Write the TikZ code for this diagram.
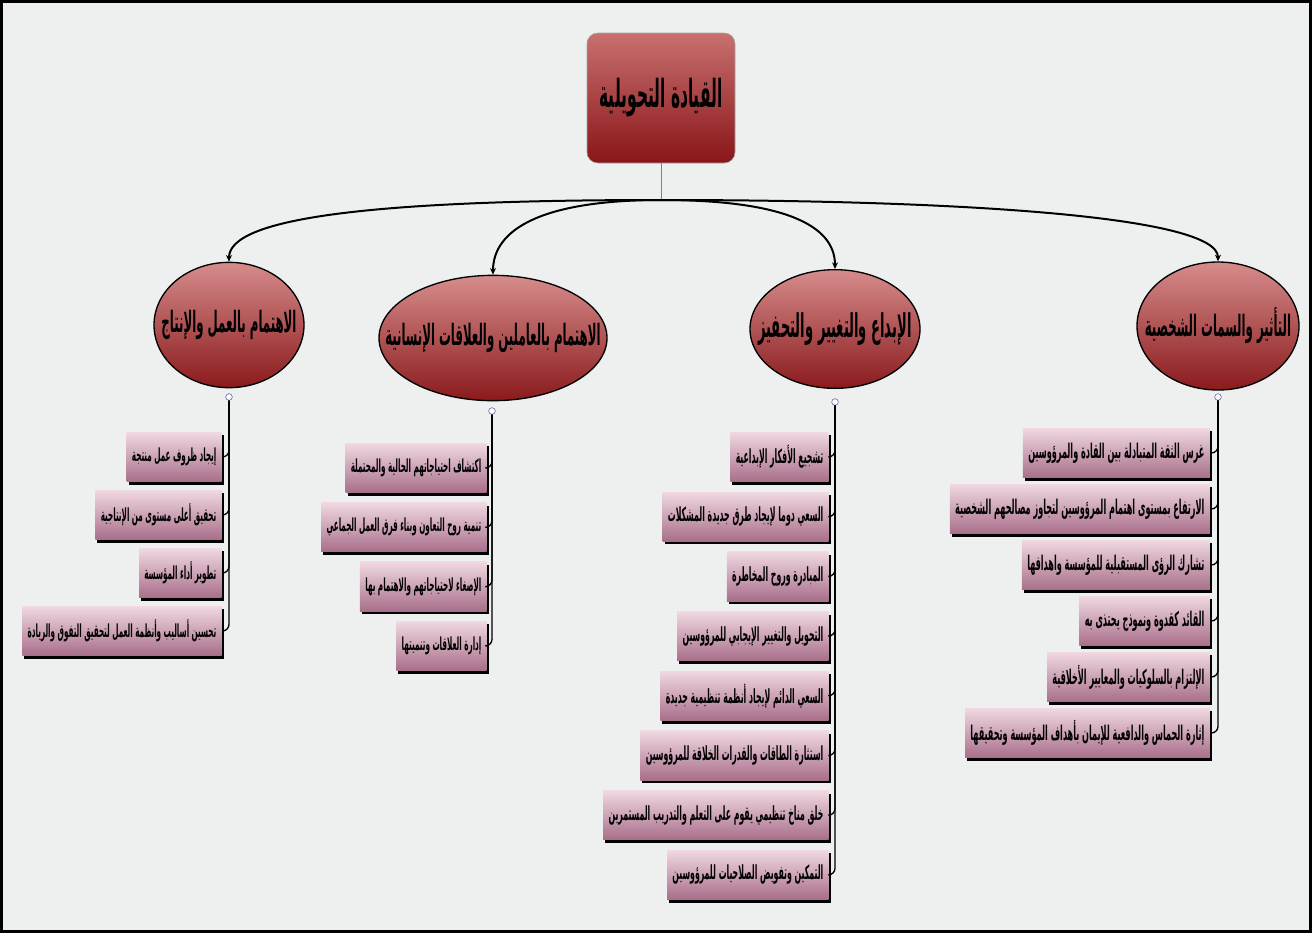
\documentclass[tikz,border=0pt]{standalone}
\usepackage{fontspec}
\newfontfamily\arabicfont[Script=Arabic,FakeStretch=0.4]{DejaVu Sans}
\TeXXeTstate=1
\usetikzlibrary{shapes.geometric,arrows.meta,shadows,positioning}

\definecolor{paper}{HTML}{EEF0F0}
\definecolor{rootTop}{HTML}{C8706F}
\definecolor{rootBot}{HTML}{8A1518}
\definecolor{ovalTop}{HTML}{D68C8C}
\definecolor{ovalBot}{HTML}{8A1A1C}
\definecolor{itemTop}{HTML}{F0D8E2}
\definecolor{itemBot}{HTML}{A86E8A}

\tikzset{
  lead/.style={draw=gray!70, rounded corners=8pt, top color=rootTop, bottom color=rootBot,
    minimum width=111pt, minimum height=97.5pt, font=\fontsize{29}{32}\selectfont\arabicfont\bfseries},
  topic/.style={ellipse, draw=black, line width=1pt, top color=ovalTop, bottom color=ovalBot,
    inner sep=0pt, font=\fontsize{#1}{24}\selectfont\arabicfont\bfseries},
  topic/.default=22,
  item/.style={anchor=east, top color=itemTop, bottom color=itemBot, minimum height=37pt,
    inner xsep=4pt, font=\fontsize{#1}{17}\selectfont\arabicfont\bfseries,
    drop shadow={shadow xshift=1.5pt, shadow yshift=-2.3pt, fill=black, opacity=1}},
  item/.default=14.6,
  branch/.style={line width=1.5pt, -{Stealth[length=5pt,width=4.5pt]}},
  spine/.style={line width=1pt, rounded corners=5pt},
  hub/.style={circle, draw=blue!30!gray, fill=white, inner sep=0pt, minimum size=5pt},
}
\newcommand{\rtl}[1]{\makebox[0pt]{\beginR #1\endR}}

\begin{document}
\begin{tikzpicture}[x=0.75pt,y=-0.75pt]
\useasboundingbox (0,0) rectangle (1312,933);
\fill[paper] (0,0) rectangle (1312,933);
\draw[line width=2.5pt] (1.7,1.7) rectangle (1310.3,931.3);

% root and the four topics
\node[lead] (lead) at (661,98) {\rtl{القيادة التحويلية}};
\coordinate (fork) at (661,200);

\node[topic, minimum width=112.5pt, minimum height=94pt] (work) at (229,325) {\rtl{الاهتمام بالعمل والإنتاج}};
\node[topic, minimum width=171pt, minimum height=94pt] (people) at (493,338) {\rtl{الاهتمام بالعاملين والعلاقات الإنسانية}};
\node[topic=24.5, minimum width=127.5pt, minimum height=89pt] (creat) at (835,329) {\rtl{الإبداع والتغيير والتحفيز}};
\node[topic, minimum width=121.5pt, minimum height=96pt] (infl) at (1218,326) {\rtl{التأثير والسمات الشخصية}};

\draw[gray, line width=0.6pt] (lead.south) -- (fork);
\draw[branch] (fork) .. controls +(-280,0) and +(0,-45) .. (work.north);
\draw[branch] (fork) .. controls +(-120,0) and +(0,-45) .. (people.north);
\draw[branch] (fork) .. controls +(120,0) and +(0,-45) .. (creat.north);
\draw[branch] (fork) .. controls +(300,0) and +(0,-45) .. (infl.north);

\node[hub] (hw) at (229,397) {};
\node[hub] (hp) at (492,411) {};
\node[hub] (hc) at (835,402) {};
\node[hub] (hi) at (1218,397) {};

% items of each topic
\foreach \txt [count=\i] in {إيجاد ظروف عمل منتجة, تحقيق أعلى مستوى من الإنتاجية,
    تطوير أداء المؤسسة, تحسين أساليب وأنظمة العمل لتحقيق التفوق والريادة}{
  \node[item=13.5] (work\i) at (222,{457+58*(\i-1)}) {\beginR\txt\endR};
  \draw[spine] (hw.south) |- (work\i.east);
}
\foreach \txt [count=\i] in {اكتشاف احتياجاتهم الحالية والمحتملة, تنمية روح التعاون وبناء فرق العمل الجماعي,
    الإصغاء لاحتياجاتهم والاهتمام بها, إدارة العلاقات وتنميتها}{
  \node[item=13.5] (people\i) at (487,{468+59.3*(\i-1)}) {\beginR\txt\endR};
  \draw[spine] (hp.south) |- (people\i.east);
}
\foreach \txt [count=\i] in {تشجيع الأفكار الإبداعية, السعي دوما لإيجاد طرق جديدة المشكلات,
    المبادرة وروح المخاطرة, التحويل والتغيير الإيجابي للمرؤوسين,
    السعي الدائم لإيجاد أنظمة تنظيمية جديدة, استثارة الطاقات والقدرات الخلاقة للمرؤوسين,
    خلق مناخ تنظيمي يقوم على التعلم والتدريب المستمرين, التمكين وتفويض الصلاحيات للمرؤوسين}{
  \node[item] (creat\i) at (829,{457+59.7*(\i-1)}) {\beginR\txt\endR};
  \draw[spine] (hc.south) |- (creat\i.east);
}
\foreach \txt [count=\i] in {غرس الثقة المتبادلة بين القادة والمرؤوسين,
    الارتفاع بمستوى اهتمام المرؤوسين لتجاوز مصالحهم الشخصية,
    تشارك الرؤى المستقبلية للمؤسسة واهدافها, القائد كقدوة ونموذج يحتذى به,
    الإلتزام بالسلوكيات والمعايير الأخلاقية, إثارة الحماس والدافعية للإيمان بأهداف المؤسسة وتحقيقها}{
  \node[item=15.2] (infl\i) at (1210,{453+56*(\i-1)}) {\beginR\txt\endR};
  \draw[spine] (hi.south) |- (infl\i.east);
}
\end{tikzpicture}
\end{document}
